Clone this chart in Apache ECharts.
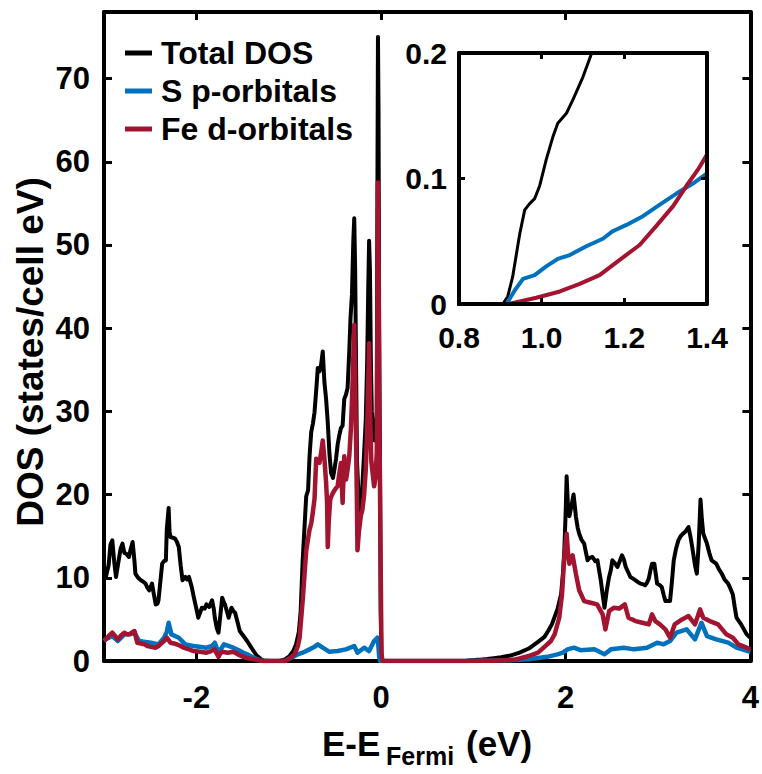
<!DOCTYPE html>
<html>
<head>
<meta charset="utf-8">
<script src="https://cdn.jsdelivr.net/npm/echarts@6/dist/echarts.min.js"></script>
<style>
  html, body { margin: 0; padding: 0; background: #fff; }
  #chart { width: 762px; height: 774px; }
</style>
</head>
<body>
<div id="chart"></div>
<script>
// Density of states of the iron sulfide cell, [E - E_Fermi (eV), DOS (states/cell eV)]
const totalDos = [
  [-3.00, 10.5], [-2.98, 10.1], [-2.95, 11.5], [-2.93, 14.0], [-2.91, 14.5], [-2.89, 12.0], [-2.87, 10.1],
  [-2.85, 11.5], [-2.82, 13.5], [-2.80, 14.1], [-2.78, 13.0], [-2.76, 12.9], [-2.73, 12.5], [-2.71, 13.5],
  [-2.69, 14.3], [-2.67, 12.0], [-2.66, 10.5], [-2.63, 10.0], [-2.60, 9.7], [-2.57, 9.5], [-2.55, 9.3],
  [-2.53, 8.8], [-2.51, 8.5], [-2.48, 9.3], [-2.46, 8.0], [-2.44, 6.8], [-2.42, 6.9], [-2.41, 7.3],
  [-2.39, 9.5], [-2.37, 11.7], [-2.35, 12.0], [-2.33, 12.1], [-2.32, 15.8], [-2.30, 18.4], [-2.29, 15.5],
  [-2.28, 14.9], [-2.25, 14.8], [-2.23, 14.7], [-2.21, 14.3], [-2.19, 13.7], [-2.17, 11.5], [-2.15, 9.7],
  [-2.13, 10.0], [-2.12, 10.1], [-2.10, 9.8], [-2.08, 10.1], [-2.06, 9.3], [-2.05, 8.9], [-2.03, 7.8],
  [-2.01, 6.8], [-1.99, 5.8], [-1.98, 5.2], [-1.96, 5.8], [-1.94, 6.4], [-1.91, 6.3], [-1.89, 6.8],
  [-1.86, 6.5], [-1.83, 7.3], [-1.81, 6.2], [-1.80, 5.2], [-1.78, 4.0], [-1.76, 3.4], [-1.74, 5.5],
  [-1.72, 7.6], [-1.70, 7.0], [-1.69, 6.8], [-1.67, 6.0], [-1.65, 5.2], [-1.63, 6.0], [-1.62, 6.4],
  [-1.60, 6.0], [-1.58, 5.8], [-1.55, 4.5], [-1.53, 3.6], [-1.49, 3.0], [-1.45, 2.4], [-1.41, 1.7],
  [-1.38, 1.2], [-1.35, 0.7], [-1.33, 0.5], [-1.30, 0.2], [-1.27, 0.05], [-1.20, 0], [-1.10, 0],
  [-1.04, 0.2], [-0.99, 0.6], [-0.95, 1.2], [-0.92, 2.0], [-0.89, 3.5], [-0.87, 6.0], [-0.85, 11.7],
  [-0.83, 15.8], [-0.81, 19.8], [-0.79, 20.5], [-0.774, 24.6], [-0.756, 27.5], [-0.738, 28.5], [-0.72, 29.9],
  [-0.70, 32.8], [-0.685, 35.2], [-0.667, 34.8], [-0.649, 35.6], [-0.631, 37.2], [-0.613, 33.5], [-0.595, 31.5],
  [-0.577, 28.7], [-0.559, 25.0], [-0.541, 22.6], [-0.52, 22.0], [-0.505, 23.0], [-0.487, 24.3], [-0.47, 26.0],
  [-0.452, 27.1], [-0.434, 28.0], [-0.416, 28.3], [-0.398, 31.5], [-0.38, 32.0], [-0.362, 32.8], [-0.344, 37.2],
  [-0.33, 41.3], [-0.315, 44.0], [-0.30, 50.5], [-0.29, 53.2], [-0.28, 47.0], [-0.27, 35.0], [-0.26, 24.0],
  [-0.24, 19.0], [-0.218, 18.0], [-0.20, 21.5], [-0.183, 25.0], [-0.165, 29.0], [-0.15, 36.0], [-0.138, 45.0],
  [-0.129, 50.5], [-0.12, 47.0], [-0.11, 36.0], [-0.10, 30.0], [-0.085, 27.5], [-0.07, 26.5], [-0.058, 27.5],
  [-0.046, 30.0], [-0.038, 60.0], [-0.033, 75.0], [-0.027, 66.0], [-0.02, 40.0], [-0.012, 25.0], [-0.004, 6.0],
  [0.005, 0.5], [0.015, 0], [0.30, 0], [0.60, 0], [0.90, 0], [0.906, 0],
  [0.918, 0.006], [0.93, 0.022], [0.947, 0.056], [0.959, 0.075], [0.971, 0.080], [0.983, 0.084], [0.995, 0.094],
  [1.011, 0.115], [1.027, 0.133], [1.039, 0.144], [1.06, 0.152], [1.076, 0.163], [1.10, 0.181], [1.12, 0.199],
  [1.15, 0.23], [1.20, 0.30], [1.30, 0.45], [1.40, 0.65], [1.50, 1.0], [1.60, 1.5], [1.70, 2.3], [1.77, 2.9],
  [1.81, 3.6], [1.85, 4.4], [1.88, 5.3], [1.91, 6.2], [1.95, 8.0], [1.97, 10.5], [1.985, 13.3], [2.00, 18.0],
  [2.01, 22.2], [2.025, 18.5], [2.04, 17.4], [2.06, 18.5], [2.085, 20.0], [2.10, 18.5], [2.11, 17.4],
  [2.13, 16.0], [2.146, 15.3], [2.17, 14.6], [2.20, 14.1], [2.22, 13.0], [2.237, 12.1], [2.26, 12.4],
  [2.29, 12.5], [2.32, 12.0], [2.344, 12.1], [2.36, 11.0], [2.38, 9.7], [2.40, 8.0], [2.42, 6.4],
  [2.445, 8.5], [2.47, 10.1], [2.49, 11.0], [2.505, 12.1], [2.53, 11.8], [2.56, 11.3], [2.585, 12.0],
  [2.61, 12.7], [2.63, 12.2], [2.65, 11.3], [2.68, 10.6], [2.70, 10.1], [2.73, 9.9], [2.756, 9.7],
  [2.78, 9.5], [2.81, 9.3], [2.84, 9.2], [2.86, 9.1], [2.88, 9.4], [2.90, 9.9], [2.92, 11.0], [2.935, 11.7],
  [2.96, 11.7], [2.975, 10.5], [2.99, 9.3], [3.02, 9.1], [3.04, 8.9], [3.06, 8.0], [3.08, 7.2], [3.13, 7.2],
  [3.15, 9.5], [3.17, 12.1], [3.195, 13.5], [3.22, 14.5], [3.245, 15.0], [3.27, 15.3], [3.30, 15.6],
  [3.33, 16.1], [3.35, 15.0], [3.37, 13.7], [3.40, 11.5], [3.42, 10.5], [3.44, 14.0], [3.46, 19.4],
  [3.475, 17.0], [3.49, 15.3], [3.51, 14.7], [3.53, 14.1], [3.555, 13.0], [3.58, 12.1], [3.63, 11.7],
  [3.66, 11.0], [3.69, 10.5], [3.72, 9.8], [3.76, 9.3], [3.78, 8.8], [3.81, 8.0], [3.83, 6.5], [3.85, 5.2],
  [3.875, 4.8], [3.90, 4.4], [3.93, 3.8], [3.96, 3.2], [4.00, 2.8]
];

const sOrbitalDos = [
  [-3.00, 2.4], [-2.98, 2.6], [-2.91, 3.0], [-2.85, 2.4], [-2.78, 3.2], [-2.72, 3.2], [-2.67, 3.4],
  [-2.62, 2.4], [-2.55, 2.3], [-2.49, 2.2], [-2.41, 2.0], [-2.35, 2.8], [-2.32, 3.5], [-2.30, 4.6],
  [-2.27, 3.2], [-2.19, 2.8], [-2.12, 2.0], [-2.03, 1.8], [-1.89, 1.6], [-1.83, 1.8], [-1.80, 2.2],
  [-1.76, 1.0], [-1.70, 2.0], [-1.60, 1.6], [-1.54, 1.3], [-1.49, 1.0], [-1.43, 0.7], [-1.38, 0.4],
  [-1.32, 0.1], [-1.27, 0], [-1.10, 0], [-1.04, 0], [-1.007, 0.2], [-0.95, 0.5], [-0.90, 0.8],
  [-0.85, 1.0], [-0.774, 1.4], [-0.72, 1.7], [-0.685, 2.0], [-0.631, 1.6], [-0.559, 1.1], [-0.47, 1.2],
  [-0.38, 1.4], [-0.29, 1.8], [-0.255, 1.0], [-0.183, 1.6], [-0.129, 1.2], [-0.075, 2.4], [-0.04, 2.8],
  [-0.03, 2.0], [-0.02, 0.5], [-0.01, 0], [0.90, 0], [0.915, 0],
  [0.935, 0.011], [0.955, 0.020], [0.983, 0.023], [1.011, 0.030], [1.039, 0.036], [1.068, 0.039],
  [1.108, 0.046], [1.148, 0.052], [1.172, 0.058], [1.205, 0.063], [1.245, 0.070], [1.285, 0.079],
  [1.326, 0.088], [1.366, 0.096], [1.40, 0.104], [1.50, 0.15], [1.60, 0.22], [1.70, 0.35], [1.80, 0.5],
  [1.91, 0.8], [1.97, 1.0], [2.02, 1.4], [2.09, 1.6], [2.16, 1.3], [2.31, 1.4], [2.42, 0.8], [2.49, 1.4],
  [2.63, 1.6], [2.74, 1.4], [2.88, 1.6], [2.99, 2.2], [3.06, 2.0], [3.13, 2.4], [3.20, 3.4], [3.31, 3.8],
  [3.40, 2.6], [3.47, 4.6], [3.53, 3.0], [3.63, 2.6], [3.76, 2.2], [3.85, 1.6], [4.00, 1.1]
];

const feOrbitalDos = [
  [-3.00, 2.5], [-2.98, 2.6], [-2.95, 3.0], [-2.91, 3.4], [-2.88, 3.0], [-2.85, 2.6], [-2.82, 3.0],
  [-2.78, 3.4], [-2.75, 3.2], [-2.73, 3.2], [-2.70, 3.4], [-2.67, 3.6], [-2.64, 2.2], [-2.60, 2.1],
  [-2.56, 2.0], [-2.53, 1.8], [-2.49, 1.7], [-2.44, 1.6], [-2.41, 1.8], [-2.39, 2.0], [-2.35, 2.4],
  [-2.32, 2.8], [-2.28, 2.2], [-2.24, 2.1], [-2.21, 2.0], [-2.17, 1.8], [-2.14, 1.6], [-2.08, 1.4],
  [-2.03, 1.2], [-1.96, 1.1], [-1.89, 1.0], [-1.84, 1.2], [-1.80, 1.4], [-1.78, 0.9], [-1.76, 0.5],
  [-1.74, 0.9], [-1.72, 1.1], [-1.66, 1.0], [-1.60, 1.1], [-1.55, 0.8], [-1.49, 0.5], [-1.43, 0.3],
  [-1.38, 0.2], [-1.33, 0.1], [-1.28, 0], [-1.10, 0], [-1.04, 0], [-0.99, 0.3], [-0.935, 0.8],
  [-0.90, 1.8], [-0.882, 2.8], [-0.846, 7.6], [-0.81, 13.3], [-0.774, 15.8], [-0.756, 16.5], [-0.739, 17.8],
  [-0.72, 19.5], [-0.702, 24.3], [-0.685, 24.0], [-0.667, 23.8], [-0.649, 25.0], [-0.631, 26.5], [-0.613, 24.3],
  [-0.595, 21.5], [-0.584, 19.0], [-0.577, 13.7], [-0.565, 17.0], [-0.55, 19.4], [-0.53, 20.0], [-0.505, 20.5],
  [-0.487, 20.8], [-0.47, 21.0], [-0.452, 22.5], [-0.434, 23.8], [-0.416, 19.0], [-0.398, 24.6], [-0.379, 21.8],
  [-0.362, 23.0], [-0.344, 24.6], [-0.326, 27.9], [-0.309, 33.1], [-0.29, 40.4], [-0.275, 30.0], [-0.262, 20.0],
  [-0.255, 13.3], [-0.24, 15.5], [-0.218, 17.5], [-0.201, 18.2], [-0.183, 20.0], [-0.165, 23.0], [-0.15, 28.0],
  [-0.138, 34.0], [-0.129, 38.2], [-0.118, 30.0], [-0.105, 24.0], [-0.09, 22.5], [-0.075, 21.0], [-0.06, 22.0],
  [-0.046, 25.0], [-0.038, 45.0], [-0.033, 57.5], [-0.027, 50.0], [-0.02, 30.0], [-0.012, 22.0], [-0.004, 12.0],
  [0.005, 1.0], [0.015, 0], [0.30, 0], [0.60, 0], [0.90, 0], [0.92, 0],
  [0.947, 0.002], [0.987, 0.005], [1.044, 0.010], [1.092, 0.016], [1.14, 0.023], [1.188, 0.035],
  [1.237, 0.047], [1.277, 0.062], [1.318, 0.078], [1.35, 0.094], [1.378, 0.107], [1.40, 0.119],
  [1.45, 0.18], [1.50, 0.30], [1.55, 0.45], [1.60, 0.6], [1.65, 0.8], [1.70, 1.0], [1.77, 1.7],
  [1.84, 2.4], [1.88, 3.2], [1.93, 5.2], [1.96, 8.0], [1.985, 12.5], [2.01, 15.3], [2.025, 13.0],
  [2.04, 11.7], [2.075, 12.7], [2.11, 10.5], [2.146, 8.5], [2.20, 7.2], [2.27, 7.0], [2.34, 6.8],
  [2.40, 5.6], [2.43, 3.8], [2.47, 6.0], [2.52, 6.4], [2.58, 6.3], [2.64, 6.8], [2.68, 5.2], [2.756, 4.8],
  [2.83, 4.6], [2.90, 4.4], [2.935, 5.6], [2.97, 4.8], [3.02, 4.4], [3.08, 3.8], [3.13, 2.8], [3.18, 4.4],
  [3.26, 5.0], [3.33, 5.4], [3.40, 4.4], [3.455, 6.2], [3.49, 5.2], [3.56, 4.8], [3.65, 4.4], [3.74, 3.2],
  [3.81, 2.8], [3.87, 2.0], [3.96, 1.6], [4.00, 1.4]
];

const seriesNames = ['Total DOS', 'S p-orbitals', 'Fe d-orbitals'];

// Tick positions and their labels
const xTickValues = [-2, 0, 2, 4];
const xTickLabels = ['-2', '0', '2', '4'];
const yTickValues = [0, 10, 20, 30, 40, 50, 60, 70];
const yTickLabels = ['0', '10', '20', '30', '40', '50', '60', '70'];
const insetXTickValues = [0.8, 1.0, 1.2, 1.4];
const insetXTickLabels = ['0.8', '1.0', '1.2', '1.4'];
const insetYTickValues = [0, 0.1, 0.2];
const insetYTickLabels = ['0', '0.1', '0.2'];

const FONT = '"Liberation Sans", Arial, Helvetica, sans-serif';
const COLORS = ['#000000', '#0072BD', '#A2142F'];

function labelFor(values, labels) {
  return function (v) {
    let best = 0;
    for (let i = 1; i < values.length; i++) {
      if (Math.abs(values[i] - v) < Math.abs(values[best] - v)) best = i;
    }
    return labels[best];
  };
}

function makeAxis(kind, gridIndex, position, range, ticks, labels, opts) {
  const showLabel = position === 'bottom' || position === 'left';
  return {
    type: 'value',
    gridIndex: gridIndex,
    position: position,
    min: range[0],
    max: range[1],
    axisLine: { show: true, onZero: false, lineStyle: { color: '#000', width: opts.lineWidth } },
    axisTick: {
      show: true, inside: true, length: opts.tickLen,
      customValues: ticks,
      lineStyle: { color: '#000', width: opts.tickWidth }
    },
    axisLabel: {
      show: showLabel,
      customValues: ticks,
      formatter: labelFor(ticks, labels),
      color: '#000',
      fontFamily: FONT,
      fontWeight: 'bold',
      fontSize: opts.fontSize,
      margin: kind === 'x' ? opts.xMargin : opts.yMargin
    },
    splitLine: { show: false }
  };
}

const mainOpts = { lineWidth: 4, tickLen: 8, tickWidth: 3, fontSize: 31, xMargin: 21, yMargin: 14 };
const insetOpts = { lineWidth: 4, tickLen: 6, tickWidth: 3, fontSize: 30, xMargin: 18, yMargin: 12 };

const xRange = [-3, 4];
const yRange = [0, 78];
const insetXRange = [0.8, 1.4];
const insetYRange = [0, 0.2];

const series = [];
const dataSets = [totalDos, sOrbitalDos, feOrbitalDos];
dataSets.forEach(function (d, i) {
  series.push({
    name: seriesNames[i], type: 'line', data: d,
    xAxisIndex: 0, yAxisIndex: 0,
    showSymbol: false, symbol: 'none', clip: true,
    lineStyle: { color: COLORS[i], width: i === 0 ? 4 : 4.5, join: 'round' },
    itemStyle: { color: COLORS[i] },
    z: 2 + i
  });
});
dataSets.forEach(function (d, i) {
  series.push({
    name: seriesNames[i], type: 'line', data: d,
    xAxisIndex: 2, yAxisIndex: 2,
    showSymbol: false, symbol: 'none', clip: true,
    lineStyle: { color: COLORS[i], width: i === 0 ? 3 : 4, join: 'round' },
    itemStyle: { color: COLORS[i] },
    z: 6 + i
  });
});

const chart = echarts.init(document.getElementById('chart'), null, { renderer: 'svg', width: 762, height: 774 });
chart.setOption({
  animation: false,
  backgroundColor: '#ffffff',
  grid: [
    { left: 104, top: 12, width: 649, height: 649, show: false },
    { left: 459, top: 53, width: 248, height: 251, show: true, backgroundColor: '#ffffff', borderWidth: 0, z: 5 }
  ],
  xAxis: [
    makeAxis('x', 0, 'bottom', xRange, xTickValues, xTickLabels, mainOpts),
    makeAxis('x', 0, 'top', xRange, xTickValues, xTickLabels, mainOpts),
    Object.assign(makeAxis('x', 1, 'bottom', insetXRange, insetXTickValues, insetXTickLabels, insetOpts), { z: 10 }),
    Object.assign(makeAxis('x', 1, 'top', insetXRange, insetXTickValues, insetXTickLabels, insetOpts), { z: 10 })
  ],
  yAxis: [
    makeAxis('y', 0, 'left', yRange, yTickValues, yTickLabels, mainOpts),
    makeAxis('y', 0, 'right', yRange, yTickValues, yTickLabels, mainOpts),
    Object.assign(makeAxis('y', 1, 'left', insetYRange, insetYTickValues, insetYTickLabels, insetOpts), { z: 10 }),
    Object.assign(makeAxis('y', 1, 'right', insetYRange, insetYTickValues, insetYTickLabels, insetOpts), { z: 10 })
  ],
  legend: {
    data: seriesNames,
    orient: 'vertical',
    left: 120,
    top: 29,
    itemGap: 0,
    itemWidth: 27,
    itemHeight: 5,
    icon: 'rect',
    selectedMode: false,
    textStyle: {
      color: '#000', fontFamily: FONT, fontWeight: 'bold', fontSize: 32,
      lineHeight: 38, padding: [0, 0, 0, 4]
    }
  },
  graphic: [
    {
      type: 'text', x: 30, y: 352, rotation: Math.PI / 2,
      style: {
        text: 'DOS (states/cell eV)', fill: '#000',
        font: 'bold 37px ' + FONT, align: 'center', verticalAlign: 'middle'
      }
    },
    {
      type: 'text', x: 322, y: 743,
      style: { text: 'E-E', fill: '#000', font: 'bold 35px ' + FONT, align: 'left', verticalAlign: 'middle' }
    },
    {
      type: 'text', x: 386, y: 756,
      style: { text: 'Fermi', fill: '#000', font: 'bold 25px ' + FONT, align: 'left', verticalAlign: 'middle' }
    },
    {
      type: 'text', x: 466, y: 743,
      style: { text: '(eV)', fill: '#000', font: 'bold 35px ' + FONT, align: 'left', verticalAlign: 'middle' }
    }
  ],
  series: series
});
</script>
</body>
</html>
